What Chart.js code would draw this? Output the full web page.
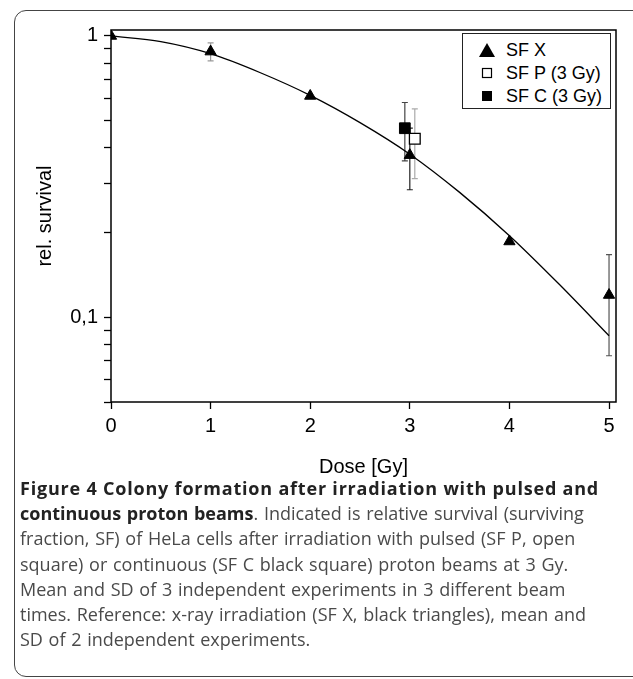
<!DOCTYPE html>
<html>
<head>
<meta charset="utf-8">
<script src="https://cdn.jsdelivr.net/npm/chart.js@4.4.0/dist/chart.umd.min.js"></script>
<style>
  html, body { margin: 0; padding: 0; background: #fff; overflow: hidden; }
  body { width: 633px; height: 679px; position: relative; }
  #clip { position: absolute; left: 0; top: 0; width: 633px; height: 679px; overflow: hidden; }
  #frame { position: absolute; left: 14px; top: 10px; width: 632px; height: 667px; box-sizing: border-box;
           border: 1.5px solid #444; border-radius: 12px; }
  #chartbox { position: absolute; left: 0; top: 0; width: 633px; height: 490px; }
  #legend { position: absolute; left: 462px; top: 33px; width: 149px; height: 76px; box-sizing: border-box;
            border: 1.3px solid #222; background: #fff; font: 18px "Liberation Sans", Arial, sans-serif; color: #000; }
  #legend .row { position: absolute; left: 0; height: 22px; line-height: 22px; white-space: nowrap; }
  #legend svg { position: absolute; left: 13px; top: 3px; }
  #legend span { position: absolute; left: 43px; top: 0; }
  #caption { position: absolute; left: 20px; top: 476px; font: 18px "Open Sans", sans-serif; line-height: 25.2px;
             color: #4a4a4a; white-space: nowrap; word-spacing: 1px; }
  #caption b { color: #222; font-weight: 700; }
  #caption .l1 { letter-spacing: 0.8px; word-spacing: 0; }
</style>
</head>
<body>
<div id="clip">
<div id="frame"></div>
<div id="chartbox"><canvas id="chart"></canvas></div>
<div id="legend"></div>
<div id="caption">
  <b class="l1">Figure 4 Colony formation after irradiation with pulsed and</b><br>
  <b>continuous proton beams</b>. Indicated is relative survival (surviving<br>
  fraction, SF) of HeLa cells after irradiation with pulsed (SF P, open<br>
  square) or continuous (SF C black square) proton beams at 3 Gy.<br>
  Mean and SD of 3 independent experiments in 3 different beam<br>
  times. Reference: x-ray irradiation (SF X, black triangles), mean and<br>
  SD of 2 independent experiments.
</div>
</div>
<script>
// axis ticks
const xTicks = [0, 1, 2, 3, 4, 5];
const yTicks = [0.05, 0.06, 0.07, 0.08, 0.09, 0.1, 0.2, 0.3, 0.4, 0.5, 0.6, 0.7, 0.8, 0.9, 1];

const seriesLabels = ['SF X', 'SF P (3 Gy)', 'SF C (3 Gy)'];

// x-ray reference (triangles)
const doseX = [0, 1, 2, 3, 4, 5];
const survX = [1.0, 0.88, 0.612, 0.377, 0.186, 0.12];
const sdX = [0, 0.065, 0, 0.093, 0, 0.047];
const sdColorX = ['#000', '#999', '#000', '#222', '#000', '#555'];

// pulsed protons (open square)
const doseP = [3.05];
const survP = [0.431];
const sdP = [0.12];

// continuous protons (black square)
const doseC = [2.95];
const survC = [0.47];
const sdC = [0.11];

// fitted curve
const fitDose = [0, 0.5, 1, 1.5, 2, 2.5, 3, 3.5, 4, 4.5, 5];
const fitSurv = [1.0, 0.955, 0.865, 0.74, 0.615, 0.492, 0.38, 0.278, 0.195, 0.131, 0.086];

const pts = (xs, ys) => xs.map((v, i) => ({ x: v, y: ys[i] }));

// error bars drawn through the chart scales
const errorBars = {
    id: 'errorBars',
    beforeDatasetsDraw(chart) {
        const { ctx, scales: { x, y } } = chart;
        chart.data.datasets.forEach(ds => {
            if (!ds.sd) return;
            ds.data.forEach((p, j) => {
                const sd = ds.sd[j];
                if (!sd) return;
                const px = x.getPixelForValue(p.x);
                const top = y.getPixelForValue(p.y + sd);
                const bot = y.getPixelForValue(p.y - sd);
                ctx.save();
                ctx.strokeStyle = Array.isArray(ds.sdColor) ? ds.sdColor[j] : ds.sdColor;
                ctx.lineWidth = 1.2;
                ctx.beginPath();
                ctx.moveTo(px, top); ctx.lineTo(px, bot);
                ctx.moveTo(px - 3, top); ctx.lineTo(px + 3, top);
                ctx.moveTo(px - 3, bot); ctx.lineTo(px + 3, bot);
                ctx.stroke();
                ctx.restore();
            });
        });
    }
};

// box round the plot area
const plotFrame = {
    id: 'plotFrame',
    afterDraw(chart) {
        const { ctx, chartArea: a } = chart;
        ctx.save();
        ctx.strokeStyle = '#000';
        ctx.lineWidth = 1.5;
        ctx.strokeRect(a.left, a.top, a.right - a.left, a.bottom - a.top);
        ctx.restore();
    }
};

const font = { family: '"Liberation Sans", Arial, sans-serif', size: 20 };

new Chart(document.getElementById('chart'), {
    type: 'scatter',
    data: {
        datasets: [
            {
                label: seriesLabels[0],
                data: pts(doseX, survX),
                sd: sdX, sdColor: sdColorX,
                pointStyle: 'triangle', pointRadius: 6.5, pointHoverRadius: 6.5,
                backgroundColor: '#000', borderColor: '#000', borderWidth: 1
            },
            {
                label: seriesLabels[1],
                data: pts(doseP, survP),
                sd: sdP, sdColor: '#aaa',
                pointStyle: 'rect', pointRadius: 7.6, pointHoverRadius: 7.6,
                backgroundColor: '#fff', borderColor: '#000', borderWidth: 1.3
            },
            {
                label: seriesLabels[2],
                data: pts(doseC, survC),
                sd: sdC, sdColor: '#444',
                pointStyle: 'rect', pointRadius: 7.6, pointHoverRadius: 7.6,
                backgroundColor: '#000', borderColor: '#000', borderWidth: 1
            },
            {
                label: 'fit',
                data: pts(fitDose, fitSurv),
                showLine: true, cubicInterpolationMode: 'monotone', pointRadius: 0,
                borderColor: '#000', borderWidth: 1.3, backgroundColor: '#000'
            }
        ]
    },
    options: {
        responsive: true,
        maintainAspectRatio: false,
        animation: false,
        layout: { padding: { top: 30, right: 17, left: 0, bottom: 0 } },
        plugins: { legend: { display: false }, tooltip: { enabled: false } },
        scales: {
            x: {
                type: 'linear', min: 0, max: 5.07,
                afterBuildTicks: s => { s.ticks = xTicks.map(v => ({ value: v })); },
                afterFit: s => { s.height = 88; },
                grid: { drawOnChartArea: false, tickLength: 7, color: '#000', tickWidth: 1.3 },
                border: { display: false },
                ticks: { font, color: '#000', padding: 5, maxRotation: 0 },
                title: { display: true, text: 'Dose [Gy]', font, color: '#000', padding: { top: 0, bottom: 11 } }
            },
            y: {
                type: 'logarithmic', min: 0.05, max: 1.05,
                afterBuildTicks: s => { s.ticks = yTicks.map(v => ({ value: v })); },
                afterFit: s => { s.width = 111; },
                grid: { drawOnChartArea: false, tickLength: 7, color: '#000', tickWidth: 1.3 },
                border: { display: false },
                ticks: {
                    font, color: '#000', padding: 6, autoSkip: false,
                    callback: v => (v === 1 ? '1' : v === 0.1 ? '0,1' : '')
                },
                title: { display: true, text: 'rel. survival', font, color: '#000', padding: { top: 33, bottom: 0 } }
            }
        }
    },
    plugins: [errorBars, plotFrame]
});

// legend box
const markers = [
    '<svg width="22" height="16"><polygon points="11,1 19,15 3,15" fill="#000"/></svg>',
    '<svg width="22" height="16"><rect x="6.5" y="3.5" width="9" height="9" fill="#fff" stroke="#000" stroke-width="1.2"/></svg>',
    '<svg width="22" height="16"><rect x="6" y="3" width="10" height="10" fill="#000"/></svg>'
];
const legend = document.getElementById('legend');
seriesLabels.forEach((lab, i) => {
    const row = document.createElement('div');
    row.className = 'row';
    row.style.top = (5 + i * 23) + 'px';
    row.innerHTML = markers[i] + '<span>' + lab + '</span>';
    legend.appendChild(row);
});
</script>
</body>
</html>
